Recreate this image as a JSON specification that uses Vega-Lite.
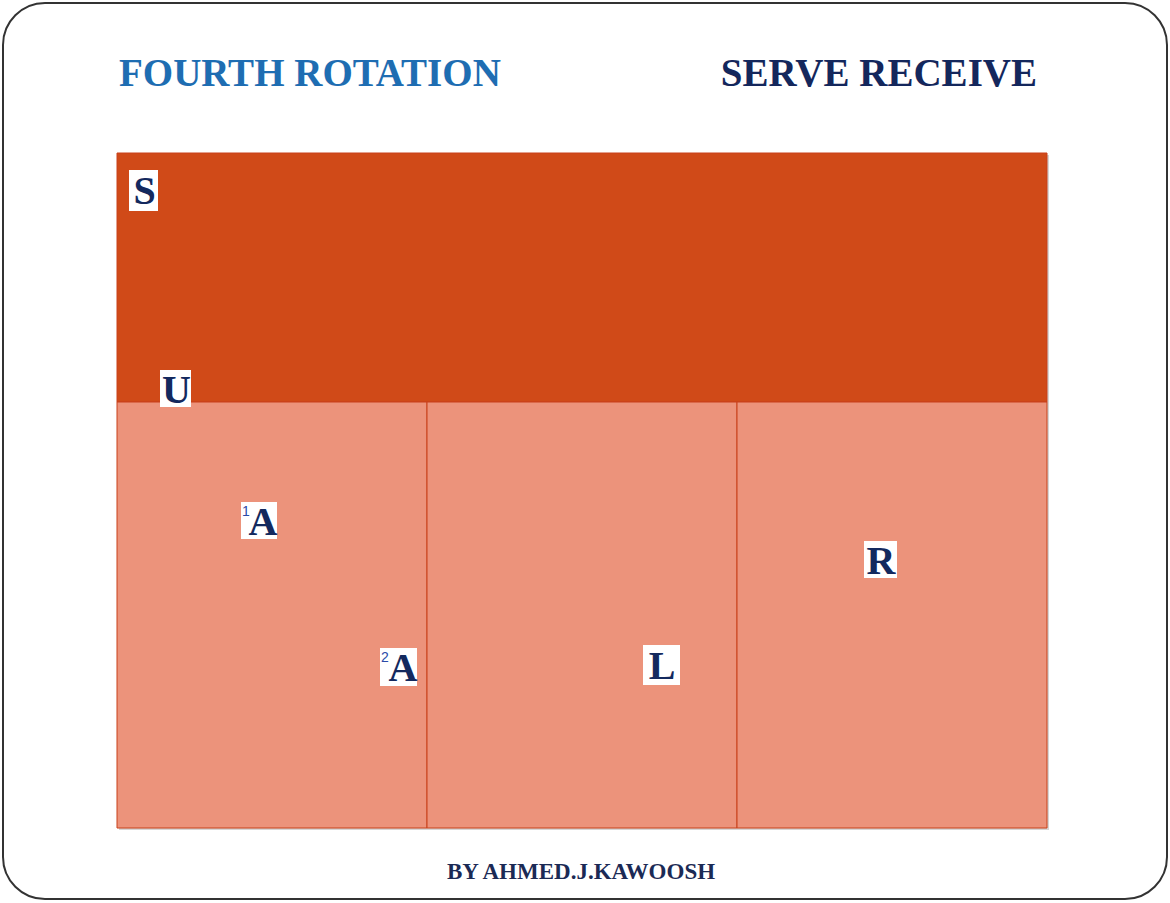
{
  "$schema": "https://vega.github.io/schema/vega-lite/v6.json",
  "width": 1170,
  "height": 903,
  "autosize": "none",
  "padding": 0,
  "background": "white",
  "config": {"view": {"stroke": null}},
  "datasets": {
    "frame": [{"x": 3, "x2": 1167, "y": 3, "y2": 899}],
    "zones": [
      {"zone": "back", "x": 117, "x2": 1047, "y": 153, "y2": 402},
      {"zone": "front", "x": 117, "x2": 427, "y": 402, "y2": 828},
      {"zone": "front", "x": 427, "x2": 737, "y": 402, "y2": 828},
      {"zone": "front", "x": 737, "x2": 1047, "y": 402, "y2": 828}
    ],
    "players": [
      {"label": "S", "sup": "", "x": 143.5, "y": 190, "bx": 129, "bx2": 158, "by": 170, "by2": 211},
      {"label": "U", "sup": "", "x": 175.5, "y": 389, "bx": 160, "bx2": 191, "by": 370, "by2": 407},
      {"label": "A", "sup": "1", "x": 262, "y": 521, "bx": 241, "bx2": 277, "by": 502, "by2": 539},
      {"label": "A", "sup": "2", "x": 402, "y": 667, "bx": 380, "bx2": 417, "by": 648, "by2": 686},
      {"label": "L", "sup": "", "x": 661, "y": 665, "bx": 643, "bx2": 680, "by": 645, "by2": 685},
      {"label": "R", "sup": "", "x": 880, "y": 560, "bx": 864, "bx2": 897, "by": 541, "by2": 578}
    ],
    "titleLeft": [{"text": "FOURTH ROTATION", "x": 119, "y": 86}],
    "titleRight": [{"text": "SERVE RECEIVE", "x": 1037, "y": 86}],
    "credit": [{"text": "BY AHMED.J.KAWOOSH", "x": 581, "y": 879}]
  },
  "layer": [
    {
      "data": {"name": "frame"},
      "mark": {"type": "rect", "fill": null, "stroke": "#333333", "strokeWidth": 2, "cornerRadius": 42},
      "encoding": {
        "x": {"field": "x", "type": "quantitative", "scale": {"domain": [0, 1170], "nice": false, "zero": false}, "axis": null},
        "x2": {"field": "x2"},
        "y": {"field": "y", "type": "quantitative", "scale": {"domain": [0, 903], "reverse": true, "nice": false, "zero": false}, "axis": null},
        "y2": {"field": "y2"}
      }
    },
    {
      "data": {"name": "zones"},
      "mark": {"type": "rect", "fill": "#8a8a8a", "opacity": 0.35, "xOffset": 2, "yOffset": 2, "x2Offset": 2, "y2Offset": 2},
      "encoding": {
        "x": {"field": "x", "type": "quantitative", "axis": null},
        "x2": {"field": "x2"},
        "y": {"field": "y", "type": "quantitative", "axis": null},
        "y2": {"field": "y2"}
      }
    },
    {
      "data": {"name": "zones"},
      "mark": {"type": "rect", "stroke": "#C8401A", "strokeWidth": 1},
      "encoding": {
        "x": {"field": "x", "type": "quantitative", "axis": null},
        "x2": {"field": "x2"},
        "y": {"field": "y", "type": "quantitative", "axis": null},
        "y2": {"field": "y2"},
        "fill": {"field": "zone", "type": "nominal", "scale": {"domain": ["back", "front"], "range": ["#D04A18", "#EC937B"]}, "legend": null}
      }
    },
    {
      "data": {"name": "players"},
      "mark": {"type": "rect", "fill": "white"},
      "encoding": {
        "x": {"field": "bx", "type": "quantitative", "axis": null},
        "x2": {"field": "bx2"},
        "y": {"field": "by", "type": "quantitative", "axis": null},
        "y2": {"field": "by2"}
      }
    },
    {
      "data": {"name": "players"},
      "mark": {"type": "text", "font": "Liberation Serif", "fontWeight": "bold", "fontSize": 40, "color": "#13295E", "align": "center", "baseline": "middle", "dx": 1, "dy": 2},
      "encoding": {
        "x": {"field": "x", "type": "quantitative", "axis": null},
        "y": {"field": "y", "type": "quantitative", "axis": null},
        "text": {"field": "label", "type": "nominal"}
      }
    },
    {
      "data": {"name": "players"},
      "mark": {"type": "text", "font": "Liberation Sans", "fontSize": 14, "color": "#2B4AA8", "align": "left", "baseline": "top", "dx": 1, "dy": 3},
      "encoding": {
        "x": {"field": "bx", "type": "quantitative", "axis": null},
        "y": {"field": "by", "type": "quantitative", "axis": null},
        "text": {"field": "sup", "type": "nominal"}
      }
    },
    {
      "data": {"name": "titleLeft"},
      "mark": {"type": "text", "font": "Liberation Serif", "fontWeight": "bold", "fontSize": 39, "baseline": "alphabetic", "align": "left", "color": "#1E6DB2"},
      "encoding": {
        "x": {"field": "x", "type": "quantitative", "axis": null},
        "y": {"field": "y", "type": "quantitative", "axis": null},
        "text": {"field": "text", "type": "nominal"}
      }
    },
    {
      "data": {"name": "titleRight"},
      "mark": {"type": "text", "font": "Liberation Serif", "fontWeight": "bold", "fontSize": 39, "baseline": "alphabetic", "align": "right", "color": "#14275C"},
      "encoding": {
        "x": {"field": "x", "type": "quantitative", "axis": null},
        "y": {"field": "y", "type": "quantitative", "axis": null},
        "text": {"field": "text", "type": "nominal"}
      }
    },
    {
      "data": {"name": "credit"},
      "mark": {"type": "text", "font": "Liberation Serif", "fontWeight": "bold", "fontSize": 23, "color": "#1B2A55", "align": "center", "baseline": "alphabetic"},
      "encoding": {
        "x": {"field": "x", "type": "quantitative", "axis": null},
        "y": {"field": "y", "type": "quantitative", "axis": null},
        "text": {"field": "text", "type": "nominal"}
      }
    }
  ]
}
